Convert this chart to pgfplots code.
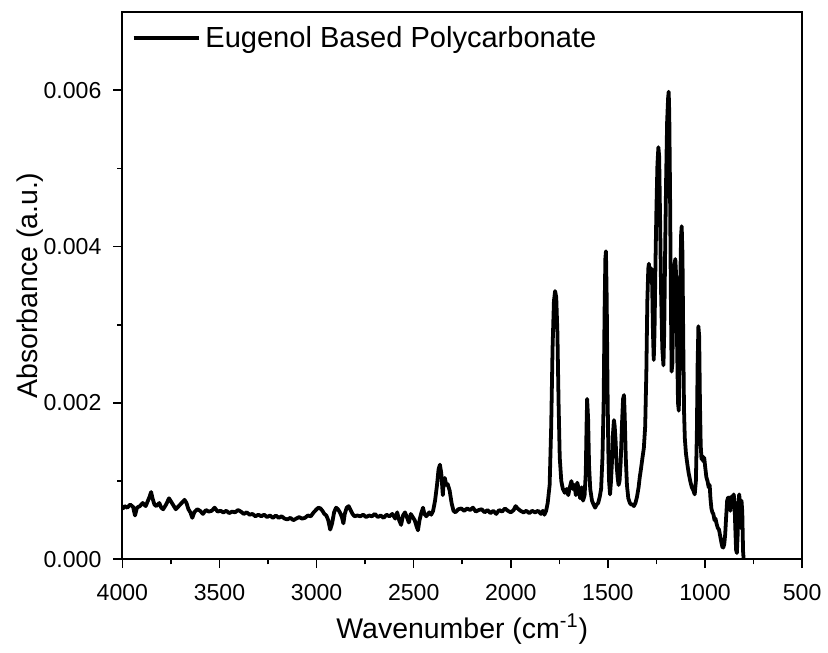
\documentclass[border=0pt]{standalone}
\usepackage{fontspec}
\setmainfont{Liberation Sans}
\usepackage{pgfplots}
\pgfplotsset{compat=1.18}

% FTIR spectrum of the eugenol based polycarbonate (wavenumber in cm^-1, absorbance in a.u.)
\begin{document}
\begin{tikzpicture}
\begin{axis}[
  scale only axis,
  width=341.5pt, height=275pt,
  x dir=reverse,
  xmin=500, xmax=4000,
  ymin=0, ymax=0.007,
  xtick={500,1000,...,4000},
  ytick={0,0.002,0.004,0.006},
  minor x tick num=1,
  minor y tick num=1,
  xtick pos=bottom, ytick pos=left,
  tick align=outside,
  major tick length=4.5pt,
  minor tick length=2.5pt,
  every tick/.style={black, line width=0.8pt},
  axis line style={line width=1pt},
  scaled y ticks=false,
  /pgf/number format/assume math mode=true,
  tick label style={font=\fontsize{11.6}{13}\selectfont},
  xticklabel style={yshift=-4.5pt, /pgf/number format/1000 sep={}},
  yticklabel style={xshift=-2.5pt, /pgf/number format/fixed,
    /pgf/number format/fixed zerofill, /pgf/number format/precision=3},
  xlabel={Wavenumber (cm\textsuperscript{-1})},
  ylabel={Absorbance (a.u.)},
  label style={font=\fontsize{14.3}{16}\selectfont},
  xlabel style={at={(axis description cs:0.5,0)}, anchor=center, yshift=-35pt},
  ylabel style={at={(axis description cs:0,0.5)}, anchor=center, yshift=46.5pt},
  legend style={draw=none, fill=none, at={(0,1)}, anchor=north west,
    xshift=1.5pt, yshift=-3pt, font=\fontsize{14.6}{17}\selectfont,
    legend cell align=left},
  legend image code/.code={\draw[line width=2pt] (0pt,0pt) -- (33pt,0pt);},
]
\addplot[black, line width=1.9pt, line join=round] coordinates {
(4000,0.00064) (3990,0.00068) (3975,0.00066) (3960,0.00070) (3945,0.00067)
(3935,0.00056) (3925,0.00066) (3910,0.00068) (3895,0.00072) (3880,0.00068)
(3870,0.00074) (3860,0.00080) (3852,0.00086) (3845,0.00078) (3835,0.00070)
(3825,0.00068) (3810,0.00072) (3800,0.00066) (3790,0.00064) (3775,0.00070)
(3760,0.00078) (3750,0.00074) (3740,0.00070) (3725,0.00064) (3710,0.00068)
(3695,0.00072) (3680,0.00076) (3670,0.00072) (3660,0.00064) (3650,0.00060)
(3640,0.00053) (3630,0.00060) (3615,0.00064) (3600,0.00062) (3585,0.00058)
(3570,0.00063) (3555,0.00061) (3540,0.00062) (3525,0.00066) (3510,0.00061)
(3495,0.00062) (3480,0.00060) (3465,0.00062) (3450,0.00059) (3435,0.00061)
(3420,0.00060) (3405,0.00063) (3390,0.00061) (3375,0.00058) (3360,0.00060)
(3345,0.00057) (3330,0.00058) (3315,0.00055) (3300,0.00057) (3285,0.00055)
(3270,0.00057) (3255,0.00054) (3240,0.00056) (3225,0.00053) (3210,0.00056)
(3195,0.00053) (3180,0.00055) (3165,0.00052) (3150,0.00051) (3135,0.00053)
(3120,0.00050) (3105,0.00052) (3090,0.00054) (3075,0.00052) (3060,0.00053)
(3045,0.00056) (3030,0.00055) (3015,0.00060) (3000,0.00064) (2990,0.00066)
(2980,0.00065) (2970,0.00062) (2960,0.00058) (2950,0.00056) (2940,0.00050)
(2930,0.00038) (2920,0.00046) (2910,0.00060) (2900,0.00066) (2890,0.00064)
(2880,0.00060) (2870,0.00054) (2862,0.00046) (2855,0.00058) (2845,0.00066)
(2835,0.00068) (2825,0.00063) (2815,0.00058) (2805,0.00055) (2790,0.00056)
(2775,0.00055) (2760,0.00057) (2745,0.00054) (2730,0.00056) (2715,0.00055)
(2700,0.00058) (2685,0.00054) (2670,0.00056) (2655,0.00053) (2640,0.00057)
(2625,0.00055) (2610,0.00058) (2595,0.00052) (2585,0.00060) (2575,0.00050)
(2565,0.00044) (2555,0.00056) (2545,0.00060) (2535,0.00054) (2525,0.00047)
(2515,0.00058) (2505,0.00054) (2495,0.00050) (2485,0.00042) (2478,0.00037)
(2470,0.00050) (2460,0.00060) (2452,0.00066) (2445,0.00058) (2435,0.00055)
(2420,0.00060) (2410,0.00057) (2400,0.00062) (2390,0.00075) (2380,0.00095)
(2372,0.00115) (2365,0.00121) (2358,0.00110) (2350,0.00082) (2345,0.00100)
(2340,0.00104) (2332,0.00095) (2325,0.00096) (2315,0.00088) (2305,0.00072)
(2295,0.00062) (2285,0.00060) (2270,0.00064) (2255,0.00065) (2240,0.00062)
(2225,0.00065) (2210,0.00063) (2195,0.00066) (2180,0.00061) (2165,0.00063)
(2150,0.00064) (2135,0.00060) (2120,0.00063) (2105,0.00059) (2090,0.00062)
(2075,0.00058) (2060,0.00063) (2045,0.00061) (2030,0.00065) (2015,0.00062)
(2000,0.00060) (1985,0.00063) (1975,0.00068) (1965,0.00065) (1950,0.00062)
(1935,0.00060) (1920,0.00062) (1905,0.00059) (1890,0.00062) (1875,0.00060)
(1860,0.00062) (1845,0.00058) (1835,0.00062) (1827,0.00057) (1818,0.00062)
(1810,0.00072) (1800,0.00095) (1792,0.00170) (1785,0.00270) (1778,0.00330)
(1772,0.00343) (1766,0.00335) (1760,0.00290) (1754,0.00200) (1748,0.00130)
(1740,0.00100) (1732,0.00090) (1722,0.00085) (1712,0.00090) (1704,0.00082)
(1696,0.00092) (1688,0.00100) (1680,0.00090) (1672,0.00095) (1665,0.00082)
(1658,0.00098) (1650,0.00090) (1643,0.00078) (1635,0.00092) (1628,0.00075)
(1620,0.00082) (1614,0.00110) (1610,0.00170) (1607,0.00205) (1602,0.00180)
(1597,0.00120) (1591,0.00090) (1582,0.00075) (1574,0.00070) (1566,0.00066)
(1558,0.00070) (1550,0.00072) (1542,0.00080) (1535,0.00090) (1528,0.00130)
(1522,0.00200) (1517,0.00320) (1513,0.00385) (1510,0.00394) (1506,0.00330)
(1502,0.00220) (1498,0.00140) (1494,0.00100) (1489,0.00083) (1484,0.00100)
(1479,0.00125) (1474,0.00160) (1469,0.00178) (1465,0.00170) (1460,0.00150)
(1455,0.00120) (1450,0.00105) (1445,0.00095) (1440,0.00100) (1434,0.00125)
(1428,0.00170) (1422,0.00205) (1417,0.00210) (1413,0.00180) (1408,0.00130)
(1402,0.00095) (1395,0.00078) (1387,0.00072) (1380,0.00070) (1372,0.00070)
(1366,0.00068) (1358,0.00072) (1350,0.00080) (1342,0.00092) (1336,0.00105)
(1330,0.00115) (1322,0.00130) (1315,0.00142) (1308,0.00170) (1302,0.00240)
(1297,0.00330) (1292,0.00372) (1289,0.00378) (1285,0.00368) (1280,0.00362)
(1276,0.00372) (1272,0.00350) (1268,0.00290) (1264,0.00255) (1260,0.00290)
(1255,0.00380) (1250,0.00450) (1245,0.00505) (1240,0.00527) (1236,0.00515)
(1231,0.00430) (1226,0.00340) (1220,0.00270) (1214,0.00248) (1210,0.00290)
(1205,0.00400) (1200,0.00490) (1195,0.00560) (1190,0.00590) (1187,0.00598)
(1184,0.00570) (1180,0.00470) (1176,0.00340) (1172,0.00240) (1168,0.00250)
(1163,0.00330) (1158,0.00375) (1153,0.00384) (1149,0.00365) (1144,0.00280)
(1139,0.00200) (1135,0.00190) (1131,0.00260) (1127,0.00360) (1123,0.00415)
(1120,0.00426) (1116,0.00390) (1112,0.00280) (1108,0.00190) (1104,0.00155)
(1098,0.00135) (1090,0.00120) (1084,0.00110) (1076,0.00100) (1068,0.00092)
(1060,0.00088) (1053,0.00083) (1047,0.00100) (1042,0.00160) (1038,0.00250)
(1034,0.00298) (1030,0.00285) (1026,0.00200) (1022,0.00145) (1018,0.00128)
(1013,0.00132) (1008,0.00125) (1004,0.00130) (999,0.00118) (993,0.00105)
(987,0.00100) (981,0.00092) (976,0.00095) (972,0.00078) (967,0.00065)
(962,0.00060) (957,0.00058) (951,0.00050) (946,0.00052) (940,0.00045)
(934,0.00040) (928,0.00038) (922,0.00030) (916,0.00022) (911,0.00016)
(906,0.00015) (901,0.00019) (896,0.00032) (891,0.00055) (886,0.00075)
(881,0.00079) (877,0.00074) (873,0.00079) (869,0.00062) (865,0.00075)
(860,0.00081) (856,0.00078) (852,0.00083) (848,0.00072) (844,0.00040)
(840,0.00012) (836,0.00008) (832,0.00030) (828,0.00070) (824,0.00083)
(820,0.00072) (816,0.00040) (812,0.00075) (808,0.00060) (804,0.00010)
(801,0.00000)
};
\addlegendentry{Eugenol Based Polycarbonate}
\end{axis}
% page frame around the axis
\path (current axis.south west) ++(-61.5pt,-47pt) coordinate (bl);
\path (current axis.north east) ++(11pt,6pt) coordinate (tr);
\path (bl) rectangle (tr);
\end{tikzpicture}
\end{document}
